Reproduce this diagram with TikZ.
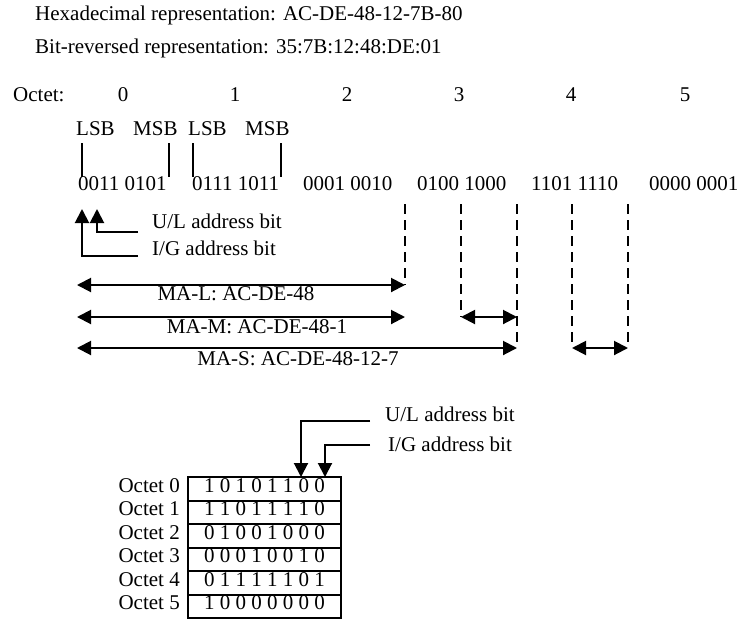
\documentclass[tikz,border=0pt]{standalone}
\usepackage{fontspec}
\setmainfont{Liberation Serif}
\usetikzlibrary{arrows.meta, positioning, calc}
\tikzset{
  mtxt/.style ={font=\fontsize{21}{25}\selectfont, inner sep=0pt, text height=0.66em, text depth=0pt},
  mbar/.style ={line width=2pt},
  mdash/.style={line width=2pt, dash pattern=on 10pt off 6pt},
  marr/.style ={{Triangle[length=14pt, width=14pt]}-{Triangle[length=14pt, width=14pt]}, line width=2pt},
  marrend/.style={-{Triangle[length=14pt, width=14pt]}, line width=2pt},
  bitrow/.style={rectangle, draw, line width=2pt, minimum width=153pt, minimum height=23.5pt,
                 inner sep=0pt, outer sep=0pt, font=\fontsize{21}{25}\selectfont, text height=0.66em, text depth=0pt},
}
\begin{document}
\begin{tikzpicture}[x=1pt, y=-1pt]
  \useasboundingbox (0,0) rectangle (738,622);
  % representations
  \node[mtxt, anchor=west] (hexrep) at (35,17) {Hexadecimal representation: AC-DE-48-12-7B-80};
  \node[mtxt, anchor=west] (revrep) at (35,50) {Bit-reversed representation: 35:7B:12:48:DE:01};
  % octet numbers and transmitted bit order
  \node[mtxt, anchor=west] (octlab) at (13,98) {Octet:};
  \foreach \i/\x/\bx/\bits in {0/123/78/0011 0101,1/235/192/0111 1011,2/347/303/0001 0010,
                               3/459/417/0100 1000,4/571/531/1101 1110,5/685/649/0000 0001} {
    \node[mtxt] (oct\i) at (\x,98) {\i};
    \node[mtxt, anchor=west] (bin\i) at (\bx,187) {\bits};
  }
  \foreach \n/\x/\bx/\lab in {lsba/76/82/LSB,msba/133/169/MSB,lsbb/188/193/LSB,msbb/245/281/MSB} {
    \node[mtxt, anchor=west] (\n) at (\x,132) {\lab};
    \coordinate (\n top) at (\bx,143);
    \coordinate (\n bot) at (\bx,177);
    \draw[mbar] (\n top) -- (\n bot);
  }
  % U/L and I/G bits in the bit string
  \coordinate (ulbit) at (97,209);
  \coordinate (igbit) at (82,209);
  \node[mtxt, anchor=west] (ullab) at (152,225) {U/L address bit};
  \node[mtxt, anchor=west] (iglab) at (152,252) {I/G address bit};
  \draw[marrend] ($(ullab.west)+(-14,7)$) -| (ulbit);
  \draw[marrend] ($(iglab.west)+(-14,4)$) -| (igbit);
  % dashed limits
  \foreach \n/\x/\y in {da/405/285,db/461/317,dc/517/348,dd/572/348,de/628/348} {
    \coordinate (\n top) at (\x,204);
    \coordinate (\n) at (\x,\y);
    \draw[mdash] (\n top) -- (\n);
  }
  \coordinate (mal) at (77,285);
  \coordinate (mam) at (77,317);
  \coordinate (mas) at (77,348);
  \draw[marr] (mal) -- (da);
  \draw[marr] (mam) -- (da |- mam);
  \draw[marr] (db) -- (dc |- db);
  \draw[marr] (mas) -- (dc);
  \draw[marr] (dd) -- (de);
  \node[mtxt] (malab) at (236,297) {MA-L: AC-DE-48};
  \node[mtxt] (mamlab) at (257,330) {MA-M: AC-DE-48-1};
  \node[mtxt] (maslab) at (298,362) {MA-S: AC-DE-48-12-7};
  % octets in memory order
  \foreach \r/\bits in {0/1 0 1 0 1 1 0 0,1/1 1 0 1 1 1 1 0,2/0 1 0 0 1 0 0 0,
                        3/0 0 0 1 0 0 1 0,4/0 1 1 1 1 1 0 1,5/1 0 0 0 0 0 0 0} {
    \node[bitrow] (row\r) at (264.5,488.75+23.5*\r) {\bits};
    \node[mtxt, anchor=east] (rowlab\r) at ($(row\r.west)+(-8,0)$) {Octet \r};
  }
  \node[mtxt, anchor=west] (ullabm) at (385,418) {U/L address bit};
  \node[mtxt, anchor=west] (iglabm) at (388,448) {I/G address bit};
  \draw[marrend] ($(ullabm.west)+(-15,3)$) -| ([xshift=36.5pt]row0.north);
  \draw[marrend] ($(iglabm.west)+(-18,-3)$) -| ([xshift=60.5pt]row0.north);
\end{tikzpicture}
\end{document}
